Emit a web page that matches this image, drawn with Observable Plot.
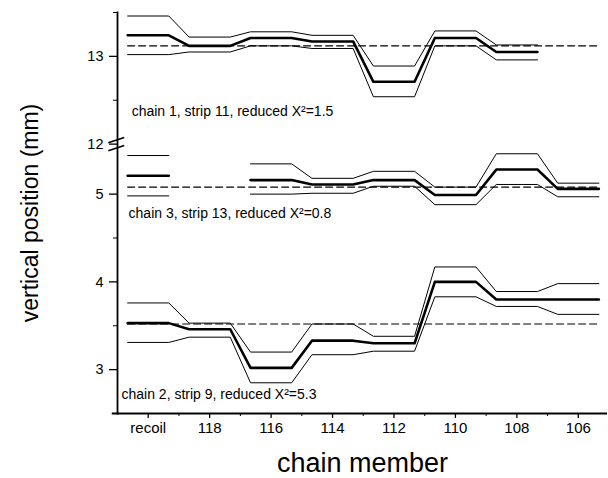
<!DOCTYPE html>
<html>
<head>
<meta charset="utf-8">
<script src="https://cdn.jsdelivr.net/npm/d3@7"></script>
<script src="https://cdn.jsdelivr.net/npm/@observablehq/plot@0.6"></script>
<style>
  html, body { margin: 0; padding: 0; background: #fff; }
</style>
</head>
<body>
<div id="chart"></div>
<script>
// ---- data ----
const members = ["recoil", "118", "116", "114", "112", "110", "108", "106"];
const memberX = [120, 118, 116, 114, 112, 110, 108, 106];

// chain 1, strip 11 (upper panel, mm)
const chain1Center = [13.24, 13.12, 13.21, 13.17, 12.71, 13.21, 13.05, null];
const chain1Upper  = [13.46, 13.22, 13.28, 13.24, 12.89, 13.29, 13.13, null];
const chain1Lower  = [13.02, 13.05, 13.12, 13.09, 12.54, 13.12, 12.96, null];
const chain1Fit = 13.12;

// chain 3, strip 13
const chain3Center = [5.21, null, 5.16, 5.11, 5.16, 4.99, 5.28, 5.06];
const chain3Upper  = [5.44, null, 5.345, 5.18, 5.26, 5.08, 5.46, 5.125];
const chain3Lower  = [4.98, null, 5.00, 5.01, 5.09, 4.88, 5.11, 4.97];
const chain3Fit = 5.08;

// chain 2, strip 9
const chain2Center = [3.53, 3.46, 3.02, 3.33, 3.30, 4.00, 3.80, 3.80];
const chain2Upper  = [3.76, 3.53, 3.20, 3.52, 3.38, 4.17, 3.89, 3.98];
const chain2Lower  = [3.31, 3.37, 2.85, 3.17, 3.21, 3.83, 3.72, 3.63];
const chain2Fit = 3.52;

const labels = [
  "chain 1, strip 11, reduced Χ²=1.5",
  "chain 3, strip 13, reduced Χ²=0.8",
  "chain 2, strip 9, reduced Χ²=5.3"
];

const yMajorTicks = [3, 4, 5, 12, 13];
const yMinorTicks = [3.5, 4.5, 12.5, 13.5];
const xMinorTicks = [119, 117, 115, 113, 111, 109, 107];

// ---- broken axis: values >= 12 are shifted down ----
const breakOffset = 6.43;           // 12 mm drawn at 5.57 on the continuous scale
const disp = v => (v >= 10 ? v - breakOffset : v);
const half = 0.67;                  // half width of each member's plateau

function stepSeries(values) {
  const pts = [];
  values.forEach((v, i) => {
    if (v == null) { pts.push({x: memberX[i], y: NaN}); return; }
    pts.push({x: memberX[i] + half, y: disp(v)});
    pts.push({x: memberX[i] - half, y: disp(v)});
  });
  return pts;
}
function fitSeries(v) {
  return [{x: memberX[0] + half, y: disp(v)}, {x: memberX[memberX.length - 1] - half, y: disp(v)}];
}

const xDomain = [121, 105.05];
const yDomain = [2.5, disp(13.5)];
const breakY = disp(12);

const font = "'Liberation Sans', Arial, Helvetica, sans-serif";

const thick = {x: "x", y: "y", stroke: "black", strokeWidth: 2.6};
const thin = {x: "x", y: "y", stroke: "black", strokeWidth: 1};
const dashed = {x: "x", y: "y", stroke: "black", strokeWidth: 1.2, strokeDasharray: "7,4"};

const marks = [];
for (const [c, u, l, f] of [
  [chain1Center, chain1Upper, chain1Lower, chain1Fit],
  [chain3Center, chain3Upper, chain3Lower, chain3Fit],
  [chain2Center, chain2Upper, chain2Lower, chain2Fit]
]) {
  marks.push(Plot.line(fitSeries(f), dashed));
  marks.push(Plot.line(stepSeries(u), thin));
  marks.push(Plot.line(stepSeries(l), thin));
  marks.push(Plot.line(stepSeries(c), thick));
}

const chart = Plot.plot({
  width: 608,
  height: 478,
  marginLeft: 117,
  marginRight: 1,
  marginTop: 12,
  marginBottom: 65,
  x: {domain: xDomain, axis: null},
  y: {domain: yDomain, axis: null},
  style: {fontFamily: font, background: "white", color: "black"},
  marks: [
    ...marks,
    // axes lines
    Plot.frame({anchor: "left", stroke: "black", strokeWidth: 1.8}),
    Plot.ruleY([yDomain[0]], {x1: xDomain[0] + 0.17, x2: xDomain[1], stroke: "black", strokeWidth: 1.8}),
    // x ticks
    Plot.axisX(memberX, {
      label: null, tickSize: 5, tickPadding: 4, fontSize: 15, strokeWidth: 1.3,
      tickFormat: d => (d === memberX[0] ? members[0] : String(d))
    }),
    Plot.axisX(xMinorTicks, {label: null, tickSize: 3, text: null, strokeWidth: 1}),
    // y ticks
    Plot.axisY(yMajorTicks.map(disp), {
      label: null, tickSize: 8, tickPadding: 6, fontSize: 14.5, strokeWidth: 1.3,
      tickFormat: d => String(Math.round((d > 5.3 ? d + breakOffset : d) * 10) / 10)
    }),
    Plot.axisY(yMinorTicks.map(disp), {label: null, tickSize: 4, text: null, strokeWidth: 1}),
    // axis break marks
    Plot.link([breakY + 0.045, breakY - 0.045], {
      x1: xDomain[0] + 0.3, x2: xDomain[0] - 0.22,
      y1: d => d - 0.03, y2: d => d + 0.03,
      stroke: "black", strokeWidth: 1.6
    }),
    // annotations
    Plot.text([labels[0]], {x: 120.54, y: disp(12.377), textAnchor: "start", fontSize: 14}),
    Plot.text([labels[1]], {x: 120.64, y: 4.775, textAnchor: "start", fontSize: 14}),
    Plot.text([labels[2]], {x: 120.87, y: 2.716, textAnchor: "start", fontSize: 14}),
    // axis titles
    Plot.text(["chain member"], {frameAnchor: "bottom", dy: 58, fontSize: 27}),
    Plot.text(["vertical position (mm)"], {frameAnchor: "left", textAnchor: "middle", dx: -87, rotate: -90, fontSize: 23})
  ]
});

document.getElementById("chart").appendChild(chart);
</script>
</body>
</html>
